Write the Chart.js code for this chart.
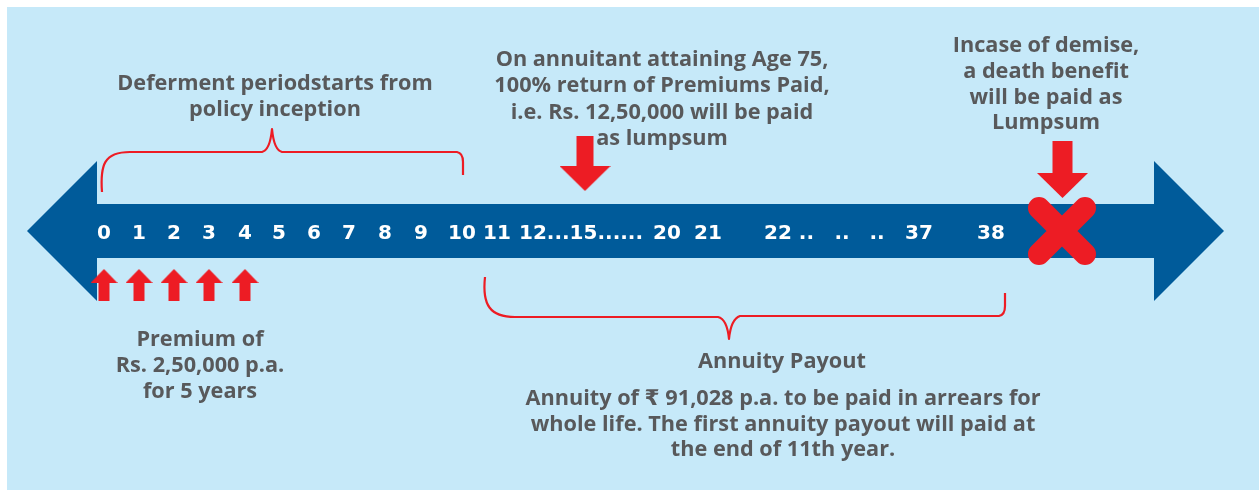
<!DOCTYPE html>
<html>
<head>
<meta charset="utf-8">
<script src="https://cdn.jsdelivr.net/npm/chart.js@4.4.0/dist/chart.umd.min.js"></script>
<style>
  html, body { margin: 0; padding: 0; background: #fff; }
  #wrap { width: 1259px; height: 490px; }
</style>
</head>
<body>
<div id="wrap"><canvas id="timeline" width="1259" height="490"></canvas></div>
<script>
// policy years written on the timeline
var yearLabels = ['0', '1', '2', '3', '4', '5', '6', '7', '8', '9', '10', '11', '12...15......', '20', '21', '22 ..', '..', '..', '37', '38'];
// years a premium is paid
var premiumYears = [0, 1, 2, 3, 4];
// year of return of premiums
var lumpsumYear = 15;

// callout texts
var deferText = ['Deferment periodstarts from', 'policy inception'];
var returnText = ['On annuitant attaining Age 75,', '100% return of Premiums Paid,', 'i.e. Rs. 12,50,000 will be paid', 'as lumpsum'];
var deathText = ['Incase of demise,', 'a death benefit', 'will be paid as', 'Lumpsum'];
var premiumText = ['Premium of', 'Rs. 2,50,000 p.a.', 'for 5 years'];
var payoutTitle = 'Annuity Payout';
var payoutText = ['Annuity of \u20B9 91,028 p.a. to be paid in arrears for', 'whole life. The first annuity payout will paid at', 'the end of 11th year.'];

// layout (pixels in scale units)
var labelX = [104, 139, 174, 209, 245, 279, 314, 349, 385, 421, 462, 497, 581, 667, 708, 789, 842, 877, 919, 991];
var lumpsumX = 585;
var deathX = 1062;

var colors = { bg: '#c6e9f9', band: '#005b9a', red: '#ed1c24', text: '#58595b' };
var FONT = '"Open Sans", "DejaVu Sans", sans-serif';
var TICK_FONT = '"DejaVu Sans", sans-serif';

function xOfYear(yr) {
  var i = yearLabels.indexOf(String(yr));
  return i >= 0 ? labelX[i] : lumpsumX;
}

// marker images
function arrowImg(w, h, shaftW, headH, up) {
  var c = document.createElement('canvas');
  c.width = w; c.height = h;
  var g = c.getContext('2d');
  g.fillStyle = colors.red;
  g.save();
  if (up) { g.translate(0, h); g.scale(1, -1); }
  var sx = (w - shaftW) / 2;
  g.fillRect(sx, 0, shaftW, h - headH + 1);
  g.beginPath();
  g.moveTo(0, h - headH);
  g.lineTo(w, h - headH);
  g.lineTo(w / 2, h);
  g.closePath();
  g.fill();
  g.restore();
  return c;
}

function crossImg(size, lw) {
  var c = document.createElement('canvas');
  c.width = size; c.height = size;
  var g = c.getContext('2d');
  var p = lw / 2 + 1;
  g.strokeStyle = colors.red;
  g.lineWidth = lw;
  g.lineCap = 'round';
  g.beginPath();
  g.moveTo(p, p); g.lineTo(size - p, size - p);
  g.moveTo(size - p, p); g.lineTo(p, size - p);
  g.stroke();
  return c;
}

var timelinePlugin = {
  id: 'timelineDecor',
  beforeDraw: function(chart) {
    var ctx = chart.ctx;
    var xs = chart.scales.x, ys = chart.scales.y;
    var X = function(v) { return xs.getPixelForValue(v); };
    var Y = function(v) { return ys.getPixelForValue(v); };
    ctx.save();
    ctx.fillStyle = colors.bg;
    ctx.fillRect(X(7), Y(7), X(1259) - X(7), Y(490) - Y(7));

    // double headed arrow
    ctx.fillStyle = colors.band;
    ctx.beginPath();
    ctx.moveTo(X(27), Y(231));
    ctx.lineTo(X(97), Y(161));
    ctx.lineTo(X(97), Y(204));
    ctx.lineTo(X(1154), Y(204));
    ctx.lineTo(X(1154), Y(161));
    ctx.lineTo(X(1224), Y(231));
    ctx.lineTo(X(1154), Y(301));
    ctx.lineTo(X(1154), Y(258));
    ctx.lineTo(X(97), Y(258));
    ctx.lineTo(X(97), Y(301));
    ctx.closePath();
    ctx.fill();

    // braces
    ctx.strokeStyle = colors.red;
    ctx.lineWidth = 2.2;
    ctx.lineJoin = 'round';
    ctx.beginPath();
    ctx.moveTo(X(102), Y(192));
    ctx.bezierCurveTo(X(100), Y(165), X(104), Y(152), X(130), Y(152));
    ctx.lineTo(X(262), Y(152));
    ctx.quadraticCurveTo(X(270), Y(150), X(272), Y(129));
    ctx.quadraticCurveTo(X(274), Y(150), X(282), Y(152));
    ctx.lineTo(X(457), Y(152));
    ctx.quadraticCurveTo(X(463), Y(153), X(463), Y(162));
    ctx.lineTo(X(463), Y(175));
    ctx.stroke();

    ctx.beginPath();
    ctx.moveTo(X(485), Y(277));
    ctx.bezierCurveTo(X(482), Y(305), X(490), Y(317), X(515), Y(317));
    ctx.lineTo(X(718), Y(317));
    ctx.quadraticCurveTo(X(727), Y(319), X(729), Y(339));
    ctx.quadraticCurveTo(X(731), Y(319), X(740), Y(316));
    ctx.lineTo(X(999), Y(316));
    ctx.quadraticCurveTo(X(1005), Y(315), X(1005), Y(306));
    ctx.lineTo(X(1005), Y(293));
    ctx.stroke();
    ctx.restore();
  },
  afterDraw: function(chart) {
    var ctx = chart.ctx;
    var xs = chart.scales.x, ys = chart.scales.y;
    function block(lines, cx, cy, gap) {
      lines.forEach(function(t, i) {
        ctx.fillText(t, xs.getPixelForValue(cx), ys.getPixelForValue(cy + i * gap));
      });
    }
    ctx.save();
    ctx.fillStyle = colors.text;
    ctx.font = 'bold 21.7px ' + FONT;
    ctx.textAlign = 'center';
    ctx.textBaseline = 'middle';
    block(deferText, 275, 84, 26);
    block(returnText, 662, 60, 26.3);
    block(deathText, 1046, 46, 25.7);
    block(premiumText, 200, 340, 26);
    block([payoutTitle], 782, 362, 26);
    block(payoutText, 783, 399, 25.5);
    ctx.restore();
  }
};

var premiumPts = premiumYears.map(function(yr) { return { x: xOfYear(yr), y: 285 }; });

new Chart(document.getElementById('timeline'), {
  type: 'scatter',
  data: {
    datasets: [
      { label: 'Premium', data: premiumPts, pointStyle: arrowImg(27, 32, 11, 14, true) },
      { label: 'Return of premium', data: [{ x: xOfYear(lumpsumYear), y: 163.5 }], pointStyle: arrowImg(51, 55, 17, 25, false) },
      { label: 'Death benefit', data: [{ x: deathX + 0.5, y: 169.5 }], pointStyle: arrowImg(51, 57, 20, 25, false) },
      { label: 'Demise', data: [{ x: deathX, y: 231 }], pointStyle: crossImg(70, 22) }
    ]
  },
  options: {
    responsive: false,
    animation: false,
    devicePixelRatio: 1,
    layout: { padding: 0, autoPadding: false },
    events: [],
    plugins: { legend: { display: false }, tooltip: { enabled: false } },
    scales: {
      x: {
        type: 'linear', min: 0, max: 1259,
        position: { y: 221.5 },
        grid: { display: false, drawTicks: false },
        border: { display: false },
        afterBuildTicks: function(axis) {
          axis.ticks = labelX.map(function(v) { return { value: v }; });
        },
        ticks: {
          autoSkip: false, maxRotation: 0, minRotation: 0, padding: 0,
          color: '#ffffff',
          font: { family: TICK_FONT, size: 20, weight: 'bold', lineHeight: 1.2 },
          callback: function(value, index) { return yearLabels[index]; }
        }
      },
      y: { type: 'linear', min: 0, max: 490, reverse: true, display: false }
    }
  },
  plugins: [timelinePlugin]
});
</script>
</body>
</html>
